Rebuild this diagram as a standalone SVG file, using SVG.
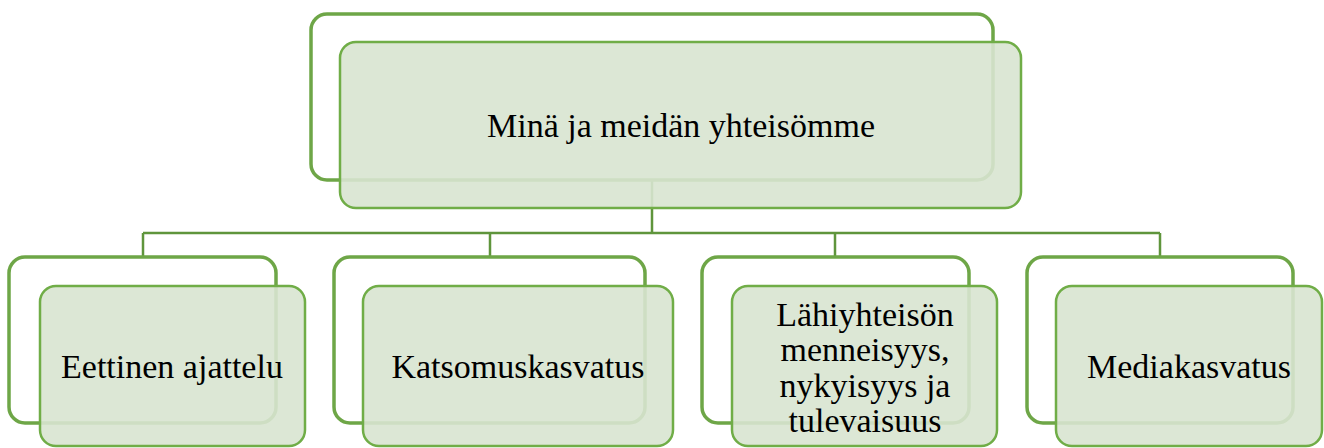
<svg xmlns="http://www.w3.org/2000/svg" width="1324" height="448" viewBox="0 0 1324 448">
<style>
.back{fill:#ffffff;stroke:#6ea647;stroke-width:3.5}
.front{fill:#d8e4d0;fill-opacity:0.9;stroke:#70ad47;stroke-width:2.5}
.conn{fill:none;stroke:#5f953c;stroke-width:2.5}
.lbl{font-size:34px;fill:#000;text-anchor:middle}
</style>
<rect width="1324" height="448" fill="#ffffff"/>
<g id="connectors">
<path class="conn" d="M652 180V233M143 233H1160M143 233V257M490 233V257M835 233V257M1160 233V257"/>
</g>
<g font-family="Liberation Serif, DejaVu Serif, serif">
<g id="root">
<rect class="back" x="311" y="14" width="682" height="166" rx="16"/>
<rect class="front" x="340" y="42" width="681" height="166" rx="16"/>
<text class="lbl" x="681" y="137">Minä ja meidän yhteisömme</text>
</g>
<g id="n1">
<rect class="back" x="9" y="257" width="267" height="166" rx="16"/>
<rect class="front" x="40" y="286" width="265" height="160" rx="16"/>
<text class="lbl" x="172" y="378">Eettinen ajattelu</text>
</g>
<g id="n2">
<rect class="back" x="334" y="257" width="311" height="166" rx="16"/>
<rect class="front" x="363" y="286" width="310" height="160" rx="16"/>
<text class="lbl" x="518" y="378">Katsomuskasvatus</text>
</g>
<g id="n3">
<rect class="back" x="702" y="257" width="267" height="166" rx="16"/>
<rect class="front" x="732" y="286" width="265" height="160" rx="16"/>
<text class="lbl" x="865" y="326">Lähiyhteisön</text>
<text class="lbl" x="865" y="361">menneisyys,</text>
<text class="lbl" x="865" y="397">nykyisyys ja</text>
<text class="lbl" x="865" y="432">tulevaisuus</text>
</g>
<g id="n4">
<rect class="back" x="1027" y="257" width="266" height="166" rx="16"/>
<rect class="front" x="1056" y="286" width="266" height="160" rx="16"/>
<text class="lbl" x="1189" y="378">Mediakasvatus</text>
</g>
</g>
</svg>
